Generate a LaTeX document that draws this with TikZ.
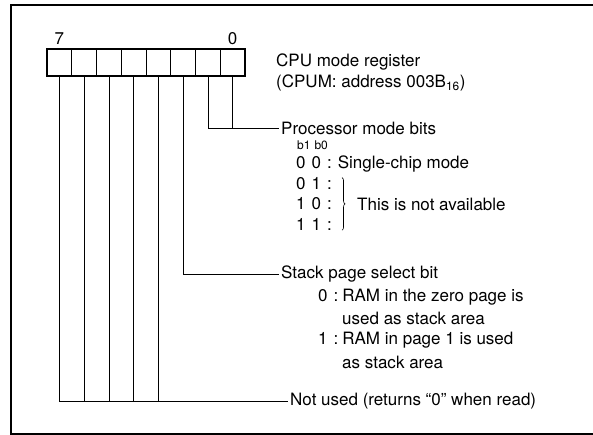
\documentclass[tikz,border=0pt]{standalone}
\usepackage{fontspec}
\setmainfont{TeX Gyre Heros}
\usetikzlibrary{positioning,decorations.pathreplacing}

\tikzset{
  cell/.style={draw,line width=0.6pt,minimum width=24.75pt,
    minimum height=27pt,inner sep=0pt,outer sep=0pt},
  lbl/.style={anchor=west,inner xsep=2pt,inner ysep=0pt,
    font=\fontsize{17}{20}\selectfont},
  small/.style={font=\fontsize{12}{14}\selectfont},
  wire/.style={line width=0.7pt},
  brc/.style={decorate,decoration={brace,amplitude=3pt},line width=0.6pt},
}

\begin{document}
\begin{tikzpicture}[x=1pt,y=-1pt]
  \useasboundingbox (0,0) rectangle (593,435);
  % frame (open at the right)
  \draw[line width=1.5pt] (593,5) -- (11,5) -- (11,434) -- (593,434);

  % register
  \foreach \i in {0,...,7}
    \node[cell] (b\i) at ({245-24.75*(\i+0.5)},62.5) {};
  \draw[line width=1.6pt] (b7.north west) rectangle (b0.south east);
  \node[lbl,above=4pt of b7] (n7) {7};
  \node[lbl,above=4pt of b0] (n0) {0};

  \node[lbl] (title) at (274,62) {CPU mode register};
  \node[lbl] (addr) at (274,83) {(CPUM: address 003B\textsubscript{16})};

  % processor mode bits
  \node[lbl] (pmode) at (279,128) {Processor mode bits};
  \node[lbl,small] (bhead) at (295,145) {b1\hspace{4pt}b0};
  \node[lbl] (m00) at (294,164) {0\hspace{6pt}0\hspace{6pt}:\hspace{6pt}Single-chip mode};
  \node[lbl] (m01) at (294,184) {0\hspace{6pt}1\hspace{6pt}:};
  \node[lbl] (m10) at (294,204) {1\hspace{6pt}0\hspace{6pt}:};
  \node[lbl] (m11) at (294,224) {1\hspace{6pt}1\hspace{6pt}:};
  \draw[brc] ([xshift=8pt]m01.north east) -- ([xshift=8pt]m11.south east);
  \node[lbl] (noav) at (355,204) {This is not available};

  % stack page
  \node[lbl] (stack) at (279,274) {Stack page select bit};
  \node[lbl] (s0) at (316,297) {0\hspace{6pt}:\hspace{4pt}RAM in the zero page is};
  \node[lbl] (s0b) at (340,318) {used as stack area};
  \node[lbl] (s1) at (316,340) {1\hspace{6pt}:\hspace{4pt}RAM in page 1 is used};
  \node[lbl] (s1b) at (340,362) {as stack area};

  \node[lbl] (unused) at (288,401) {Not used (returns “0” when read)};

  % connectors
  \draw[wire] (b1.south) |- (pmode.west);
  \draw[wire] (b0.south) -- (b0.south |- pmode.west);
  \draw[wire] (b2.south) |- (stack.west);
  \draw[wire] (b7.south) |- (unused.west);
  \foreach \i in {3,...,6}
    \draw[wire] (b\i.south) -- (b\i.south |- unused.west);
\end{tikzpicture}
\end{document}
